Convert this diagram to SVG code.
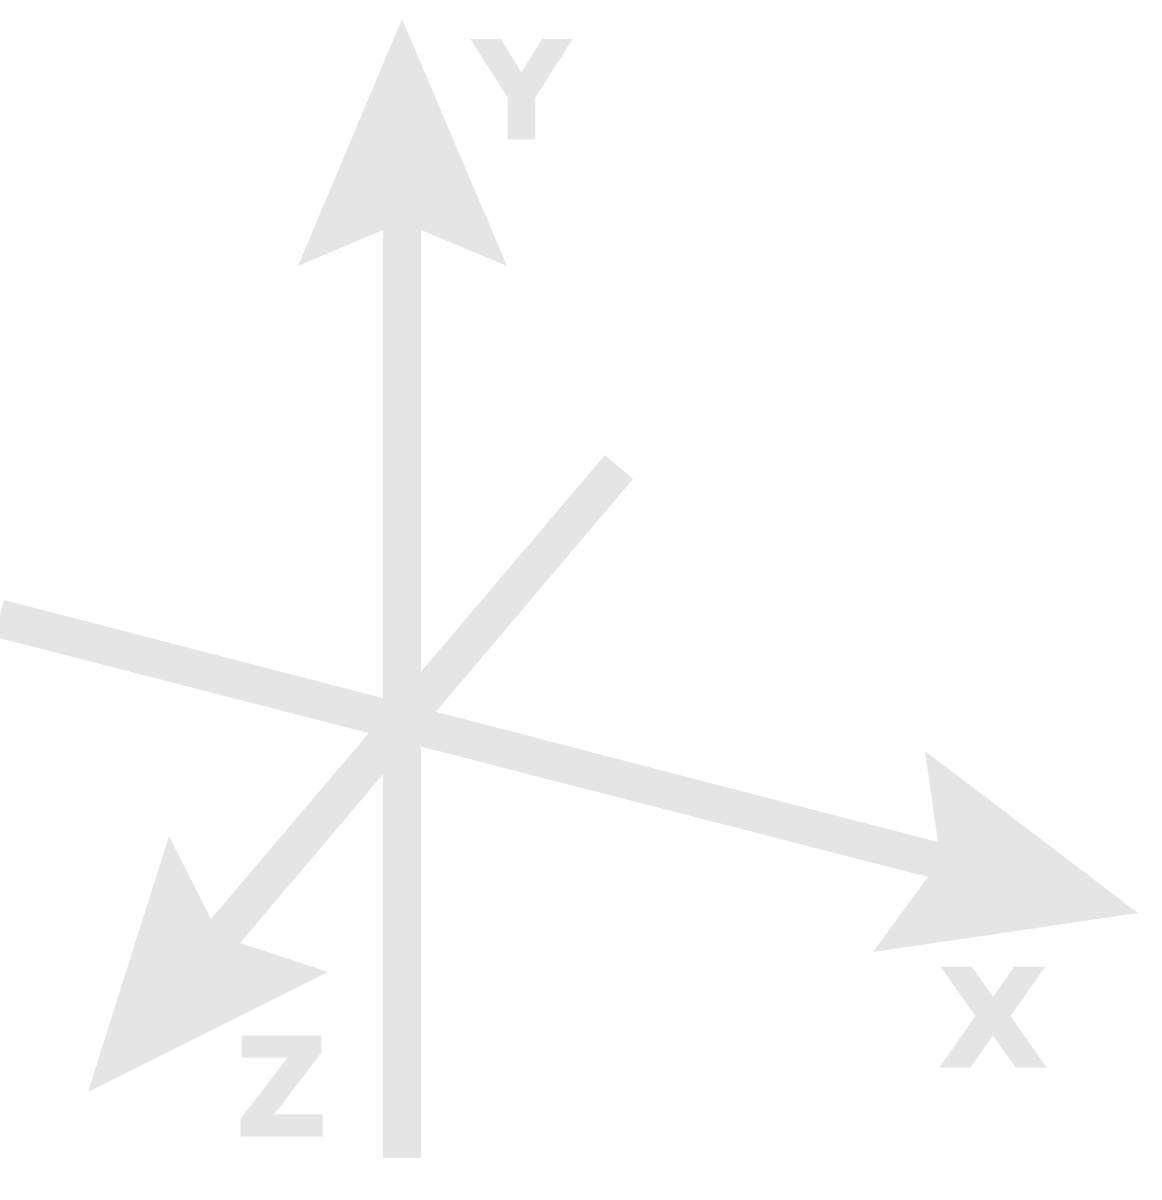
<svg xmlns="http://www.w3.org/2000/svg" width="1162" height="1200" viewBox="0 0 1162 1200">
<style>
.ax{fill:#e5e5e5;stroke:none}
.lb{fill:#e5e5e5;stroke:#e5e5e5;stroke-width:3;stroke-linejoin:miter;font-family:"DejaVu Sans",sans-serif;font-weight:bold;font-size:133px;text-anchor:middle}
</style>
<rect width="1162" height="1200" fill="#ffffff"/>
<g id="connectors">
<polygon id="axis-y" class="ax" points="402,19 507,266 421,230 421,1158 383,1158 383,230 298,266"/>
<polygon id="axis-x" class="ax" points="4,600 938,842 925,751 1138,913 873,952 928,877 -5.5,636.8"/>
<polygon id="axis-z" class="ax" points="605,455 633,479 240,943 328,972 88,1092 169,836 211,919"/>
</g>
<g id="label-y"><text class="lb" transform="translate(521.5,137.5) scale(0.98,1)" x="0" y="0">Y</text></g>
<g id="label-x"><text class="lb" transform="translate(993,1065.5) scale(1.04,1)" x="0" y="0">X</text></g>
<g id="label-z"><text class="lb" transform="translate(281.5,1134.5) scale(0.94,1)" x="0" y="0">Z</text></g>
</svg>
